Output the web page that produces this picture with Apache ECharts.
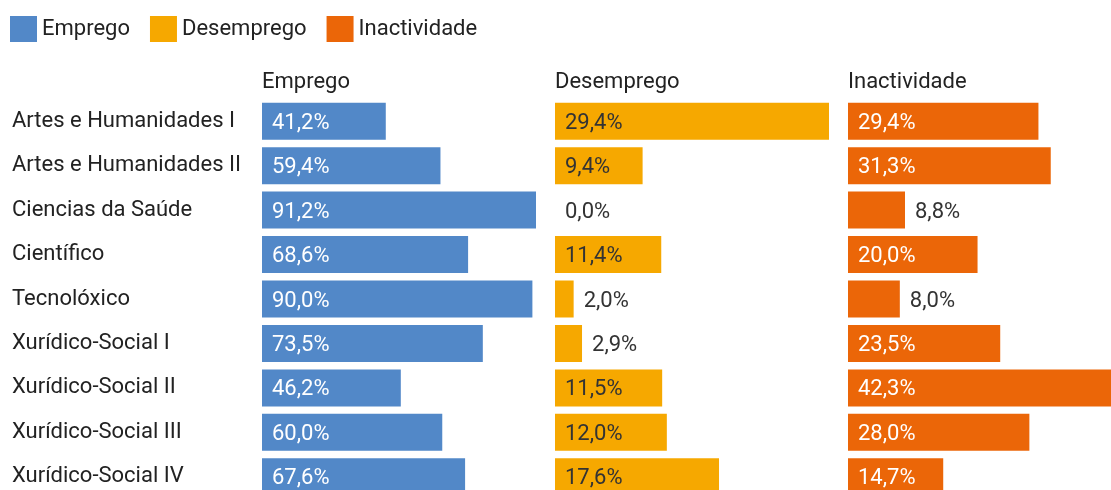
<!DOCTYPE html>
<html>
<head>
<meta charset="utf-8">
<script src="https://cdn.jsdelivr.net/npm/echarts@6/dist/echarts.min.js"></script>
<style>
  html, body { margin: 0; padding: 0; background: #fff; }
  #chart { width: 1111px; height: 490px; }
</style>
</head>
<body>
<div id="chart"></div>
<script>
// categorias (áreas)
const categorias = [
    "Artes e Humanidades I",
    "Artes e Humanidades II",
    "Ciencias da Saúde",
    "Científico",
    "Tecnolóxico",
    "Xurídico-Social I",
    "Xurídico-Social II",
    "Xurídico-Social III",
    "Xurídico-Social IV"
];
const emprego      = [41.2, 59.4, 91.2, 68.6, 90.0, 73.5, 46.2, 60.0, 67.6];
const desemprego   = [29.4, 9.4, 0.0, 11.4, 2.0, 2.9, 11.5, 12.0, 17.6];
const inactividade = [29.4, 31.3, 8.8, 20.0, 8.0, 23.5, 42.3, 28.0, 14.7];

const nomes = ["Emprego", "Desemprego", "Inactividade"];
const cores = ["#5288C8", "#F6A800", "#EB6608"];
const coresTextoDentro = ["#ffffff", "#333333", "#ffffff"];

const fonte = "Roboto, 'Noto Sans', sans-serif";
const panelLeft = [262, 555, 848];
const panelWidth = 274;
const gridTop = 99;
const gridHeight = 400;

// formato 41,2%
function fmt(v) {
    return v.toFixed(1).replace('.', ',') + '%';
}

// etiqueta dentro se a barra é larga abondo
function buildData(values, idx) {
    const max = Math.max.apply(null, values);
    return values.map(function (v) {
        const px = v / max * panelWidth;
        if (px < 75) {
            return {
                value: v,
                label: { position: 'right', distance: 10, color: '#333333' }
            };
        }
        return {
            value: v,
            label: { position: 'insideLeft', distance: 10, color: coresTextoDentro[idx] }
        };
    });
}

const valores = [emprego, desemprego, inactividade];

const grids = [], xAxes = [], yAxes = [], series = [], titles = [];
for (let i = 0; i < 3; i++) {
    grids.push({
        left: panelLeft[i], top: gridTop, width: panelWidth, height: gridHeight,
        containLabel: false, outerBoundsMode: 'none'
    });
    xAxes.push({
        type: 'value', gridIndex: i, min: 0, max: Math.max.apply(null, valores[i]),
        show: false
    });
    yAxes.push({
        type: 'category', gridIndex: i, data: categorias, inverse: true,
        axisLine: { show: false }, axisTick: { show: false },
        axisLabel: {
            show: i == 0, align: 'left', margin: 250,
            padding: [4, 0, 0, 0],
            fontFamily: fonte, fontSize: 22, color: '#222222'
        }
    });
    series.push({
        name: nomes[i], type: 'bar', xAxisIndex: i, yAxisIndex: i,
        data: buildData(valores[i], i),
        barWidth: 37,
        itemStyle: { color: cores[i] },
        label: {
            show: true, fontFamily: fonte, fontSize: 22, offset: [0, 2],
            formatter: function (p) { return fmt(p.value); }
        },
        emphasis: { disabled: true }
    });
    titles.push({
        text: nomes[i], left: panelLeft[i] - 5, top: 66,
        textStyle: { fontFamily: fonte, fontSize: 22, fontWeight: 'normal', color: '#222222' }
    });
}

var myChart = echarts.init(document.getElementById('chart'));
option = {
    animation: false,
    title: titles,
    legend: {
        data: nomes, left: 5, top: 11,
        icon: 'rect', itemWidth: 27, itemHeight: 26, itemGap: 20,
        textStyle: { fontFamily: fonte, fontSize: 22, color: '#222222' }
    },
    grid: grids,
    xAxis: xAxes,
    yAxis: yAxes,
    series: series
};
myChart.setOption(option);
</script>
</body>
</html>
